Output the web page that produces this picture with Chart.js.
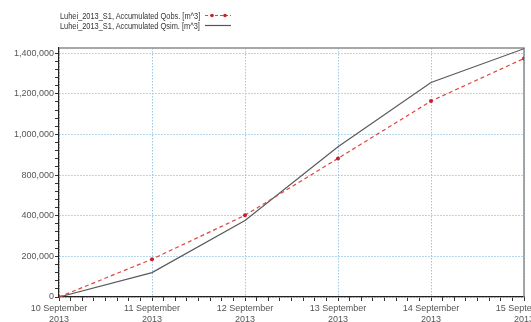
<!DOCTYPE html>
<html>
<head>
<meta charset="utf-8">
<script src="https://cdn.jsdelivr.net/npm/chart.js@4"></script>
<style>
	html, body { margin: 0; padding: 0; background: #fff; overflow: hidden; }
	#wrap { position: relative; width: 531px; height: 322px; overflow: hidden; }
	#Acc_Plot { position: absolute; left: 0; top: 0; }
	.leg { position: absolute; left: 60px; height: 10px; white-space: nowrap;
		font-family: 'Liberation Sans', Arial, sans-serif; font-size: 9.5px; color: #333; }
	.leg span { display: inline-block; transform: scaleX(0.78); transform-origin: left center; }
	.leg svg { position: absolute; left: 145px; top: 0; }
</style>
</head>
<body>
<div id="wrap">
	<canvas id="Acc_Plot" width="560" height="322"></canvas>
	<div class="leg" style="top:10px"><span>Luhei_2013_S1, Accumulated Qobs. [m^3]</span>
		<svg width="28" height="10"><line x1="0" y1="5.5" x2="26" y2="5.5" stroke="#e0453c" stroke-width="1.2" stroke-dasharray="3,2"/><circle cx="7" cy="5.5" r="1.8" fill="#c8202a"/><circle cx="20" cy="5.5" r="1.8" fill="#c8202a"/></svg></div>
	<div class="leg" style="top:20px"><span>Luhei_2013_S1, Accumulated Qsim. [m^3]</span>
		<svg width="28" height="10"><line x1="0" y1="5.5" x2="26" y2="5.5" stroke="#555" stroke-width="1.2"/></svg></div>
</div>
<script>
// days since 10 Sep 2013
const days = [0, 1, 2, 3, 4, 5];
const dayLabels = [
	["10 September", "2013"], ["11 September", "2013"], ["12 September", "2013"],
	["13 September", "2013"], ["14 September", "2013"], ["15 September", "2013"]
];

// accumulated volumes
const qObs = [0, 217000, 469000, 796000, 1125000, 1370000];
const qSim = [0, 140000, 439000, 863000, 1232000, 1426000];

// the original axis skips 600,000 - gridlines are evenly spaced
const yTickLabels = ["0", "200,000", "400,000", "800,000", "1,000,000", "1,200,000", "1,400,000"];
const yStep = 1400000 / 6;
const yMax = 1430000;

const gridBlue = "#9cc9e6";
const tickFont = { family: "'Liberation Sans', Arial, sans-serif", size: 9 };

function isMajor(v, step) {
	const k = Math.round(v / step);
	return Math.abs(v - k * step) < step * 1e-6;
}

// gray frame on top and right of plot area
const framePlugin = {
	id: "frame",
	beforeDatasetsDraw(chart) {
		const a = chart.chartArea;
		const ctx = chart.ctx;
		ctx.save();
		ctx.strokeStyle = "#8a8a8a";
		ctx.lineWidth = 1.5;
		ctx.beginPath();
		ctx.moveTo(a.left, a.top);
		ctx.lineTo(a.right, a.top);
		ctx.lineTo(a.right, a.bottom);
		ctx.stroke();
		ctx.restore();
	}
};

const acc_plot = document.getElementById("Acc_Plot").getContext("2d");

var Acc_Plot_Obj = new Chart(acc_plot, {
	type: "line",
	data: {
		datasets: [
			{
				// Observed
				data: days.map((d, i) => ({ x: d, y: qObs[i] })),
				borderColor: "#e0453c",
				borderWidth: 1.2,
				borderDash: [4, 3],
				backgroundColor: "#c8202a",
				pointRadius: 2,
				pointBorderWidth: 0,
				fill: false,
				lineTension: 0,
			},
			{
				// Simulated
				data: days.map((d, i) => ({ x: d, y: qSim[i] })),
				borderColor: "#5a5a5a",
				borderWidth: 1.2,
				pointRadius: 0,
				fill: false,
				lineTension: 0,
			}
		]
	},
	options: {
		responsive: false,
		animation: false,
		events: [],
		layout: { padding: { top: 48, right: 36, left: 0, bottom: 0 } },
		plugins: {
			legend: { display: false },
			tooltip: { enabled: false },
		},
		scales: {
			x: {
				type: "linear",
				min: 0,
				max: 5,
				afterBuildTicks(scale) {
					const t = [];
					for (let i = 0; i <= 40; i++) t.push({ value: i / 8 });
					scale.ticks = t;
				},
				afterFit(scale) { scale.height = 25; },
				ticks: {
					autoSkip: false,
					maxRotation: 0,
					padding: 2,
					color: "#555",
					font: tickFont,
					callback: (v) => isMajor(v, 1) ? dayLabels[Math.round(v)] : "",
				},
				grid: {
					color: (c) => isMajor(c.tick.value, 1) ? gridBlue : "rgba(0,0,0,0)",
					tickColor: "#333",
					tickLength: 4,
					lineWidth: 1,
				},
				border: { color: "#222", width: 1.2, dash: [1.5, 1.5] },
			},
			y: {
				min: 0,
				max: yMax,
				afterBuildTicks(scale) {
					const t = [];
					for (let i = 0; i <= 30; i++) t.push({ value: i * yStep / 5 });
					scale.ticks = t;
				},
				afterFit(scale) { scale.width = 59; },
				ticks: {
					autoSkip: false,
					padding: 1,
					color: "#555",
					font: tickFont,
					callback: (v) => isMajor(v, yStep) ? yTickLabels[Math.round(v / yStep)] : "",
				},
				grid: {
					color: (c) => isMajor(c.tick.value, yStep) ? gridBlue : "rgba(0,0,0,0)",
					tickColor: "#333",
					tickLength: 4,
					lineWidth: 1,
				},
				border: { color: "#222", width: 1.2, dash: [1.5, 1.5] },
			}
		}
	},
	plugins: [framePlugin]
});
</script>
</body>
</html>
